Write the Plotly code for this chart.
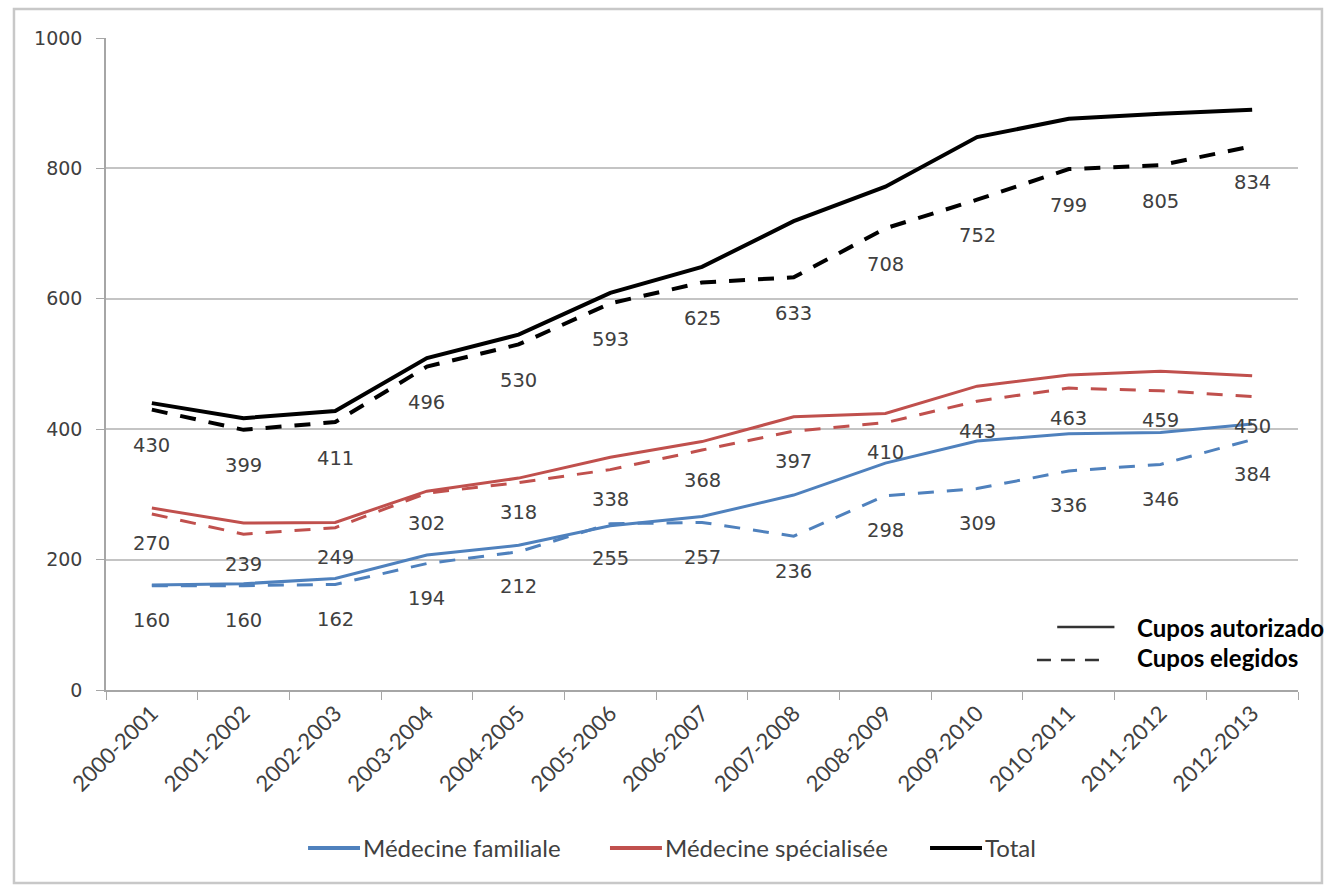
import plotly.graph_objects as go

# Academic seasons on the x axis
seasons = ["2000-2001", "2001-2002", "2002-2003", "2003-2004", "2004-2005",
           "2005-2006", "2006-2007", "2007-2008", "2008-2009", "2009-2010",
           "2010-2011", "2011-2012", "2012-2013"]

# Authorised places (solid lines)
fam_autorizados = [161, 163, 171, 207, 222, 252, 266, 299, 348, 382, 393, 395, 408]
spec_autorizados = [279, 256, 257, 305, 325, 357, 381, 419, 424, 466, 483, 489, 482]
total_autorizados = [440, 417, 428, 509, 545, 609, 649, 719, 772, 848, 876, 884, 890]

# Chosen places (dashed lines, labelled)
fam_elegidos = [160, 160, 162, 194, 212, 255, 257, 236, 298, 309, 336, 346, 384]
spec_elegidos = [270, 239, 249, 302, 318, 338, 368, 397, 410, 443, 463, 459, 450]
total_elegidos = [430, 399, 411, 496, 530, 593, 625, 633, 708, 752, 799, 805, 834]

y_ticks = [0, 200, 400, 600, 800, 1000]

BLUE = "#4F81BD"
RED = "#C0504D"
BLACK = "#000000"
TEXT = "#404040"
GRID = "#C4C4C4"
DASH = "16px,13px"

# name, colour, line width, authorised, chosen, label drop (px), legend x (paper)
series = [
    ("Médecine familiale", BLUE, 3, fam_autorizados, fam_elegidos, 35, 0.1695),
    ("Médecine spécialisée", RED, 3, spec_autorizados, spec_elegidos, 30, 0.4228),
    ("Total", BLACK, 4, total_autorizados, total_elegidos, 36, 0.6913),
]

fig = go.Figure()
annotations = []
shapes = []
LEG_Y = -0.2423
for name, color, width, auth, chosen, drop, leg_x in series:
    fig.add_trace(go.Scatter(
        x=seasons, y=chosen, mode="lines", name=name + " (elegidos)",
        line=dict(color=color, width=width, dash=DASH),
        showlegend=False, hoverinfo="skip"))
    fig.add_trace(go.Scatter(
        x=seasons, y=auth, mode="lines", name=name,
        line=dict(color=color, width=width), showlegend=False))
    for s, v in zip(seasons, chosen):
        annotations.append(dict(
            x=s, y=v, xref="x", yref="y", text=str(v), showarrow=False,
            yshift=-drop, font=dict(family="DejaVu Sans", size=19.5, color=TEXT)))
    # series key below the chart
    shapes.append(dict(type="line", xref="paper", yref="paper",
                       x0=leg_x, x1=leg_x + 0.0436, y0=LEG_Y, y1=LEG_Y,
                       line=dict(color=color, width=4)))
    annotations.append(dict(x=leg_x + 0.0446, y=LEG_Y, xref="paper", yref="paper",
                            xanchor="left", yanchor="middle", text=name,
                            showarrow=False,
                            font=dict(family="Lato", size=24, color=TEXT)))

# Line-style key (solid = authorised, dashed = chosen)
key_font = dict(family="Lato", size=24, color="#000000")
annotations += [
    dict(x=0.863, y=0.0966, xref="paper", yref="paper", xanchor="left",
         yanchor="middle", text="<b>Cupos autorizado</b>", showarrow=False,
         font=key_font),
    dict(x=0.863, y=0.050, xref="paper", yref="paper", xanchor="left",
         yanchor="middle", text="<b>Cupos elegidos</b>", showarrow=False,
         font=key_font),
]
shapes += [
    dict(type="line", xref="paper", yref="paper", x0=0.798, x1=0.846,
         y0=0.0966, y1=0.0966, line=dict(color="#333333", width=2.5)),
    dict(type="line", xref="paper", yref="paper", x0=0.781, x1=0.834,
         y0=0.046, y1=0.046, line=dict(color="#333333", width=2.5, dash="14px,10px")),
    # chart frame
    dict(type="rect", xref="paper", yref="paper", x0=-0.0772, x1=1.0201,
         y0=-0.296, y1=1.0445, line=dict(color="#C8C8C8", width=2.5),
         layer="below"),
]

fig.update_layout(
    width=1326, height=887,
    margin=dict(l=106, r=28, t=38, b=197),
    paper_bgcolor="white", plot_bgcolor="white",
    showlegend=False,
    annotations=annotations, shapes=shapes,
    xaxis=dict(
        type="category", range=[-0.5, len(seasons) - 0.5],
        showgrid=False, showline=True, linecolor="#A6A6A6", linewidth=1.5,
        ticks="outside", tickson="boundaries", ticklen=8, tickcolor="#A6A6A6",
        tickangle=-45, tickfont=dict(family="Lato", size=22, color=TEXT)),
    yaxis=dict(
        range=[0, 1000], tickvals=y_ticks, showgrid=True, gridcolor=GRID,
        gridwidth=1.5, showline=True, linecolor="#A6A6A6", linewidth=1.5,
        ticks="outside", ticklen=8, tickcolor="#A6A6A6", zeroline=False,
        ticklabelstandoff=10,
        tickfont=dict(family="DejaVu Sans", size=19, color=TEXT)),
)

fig.write_html("out.html")
